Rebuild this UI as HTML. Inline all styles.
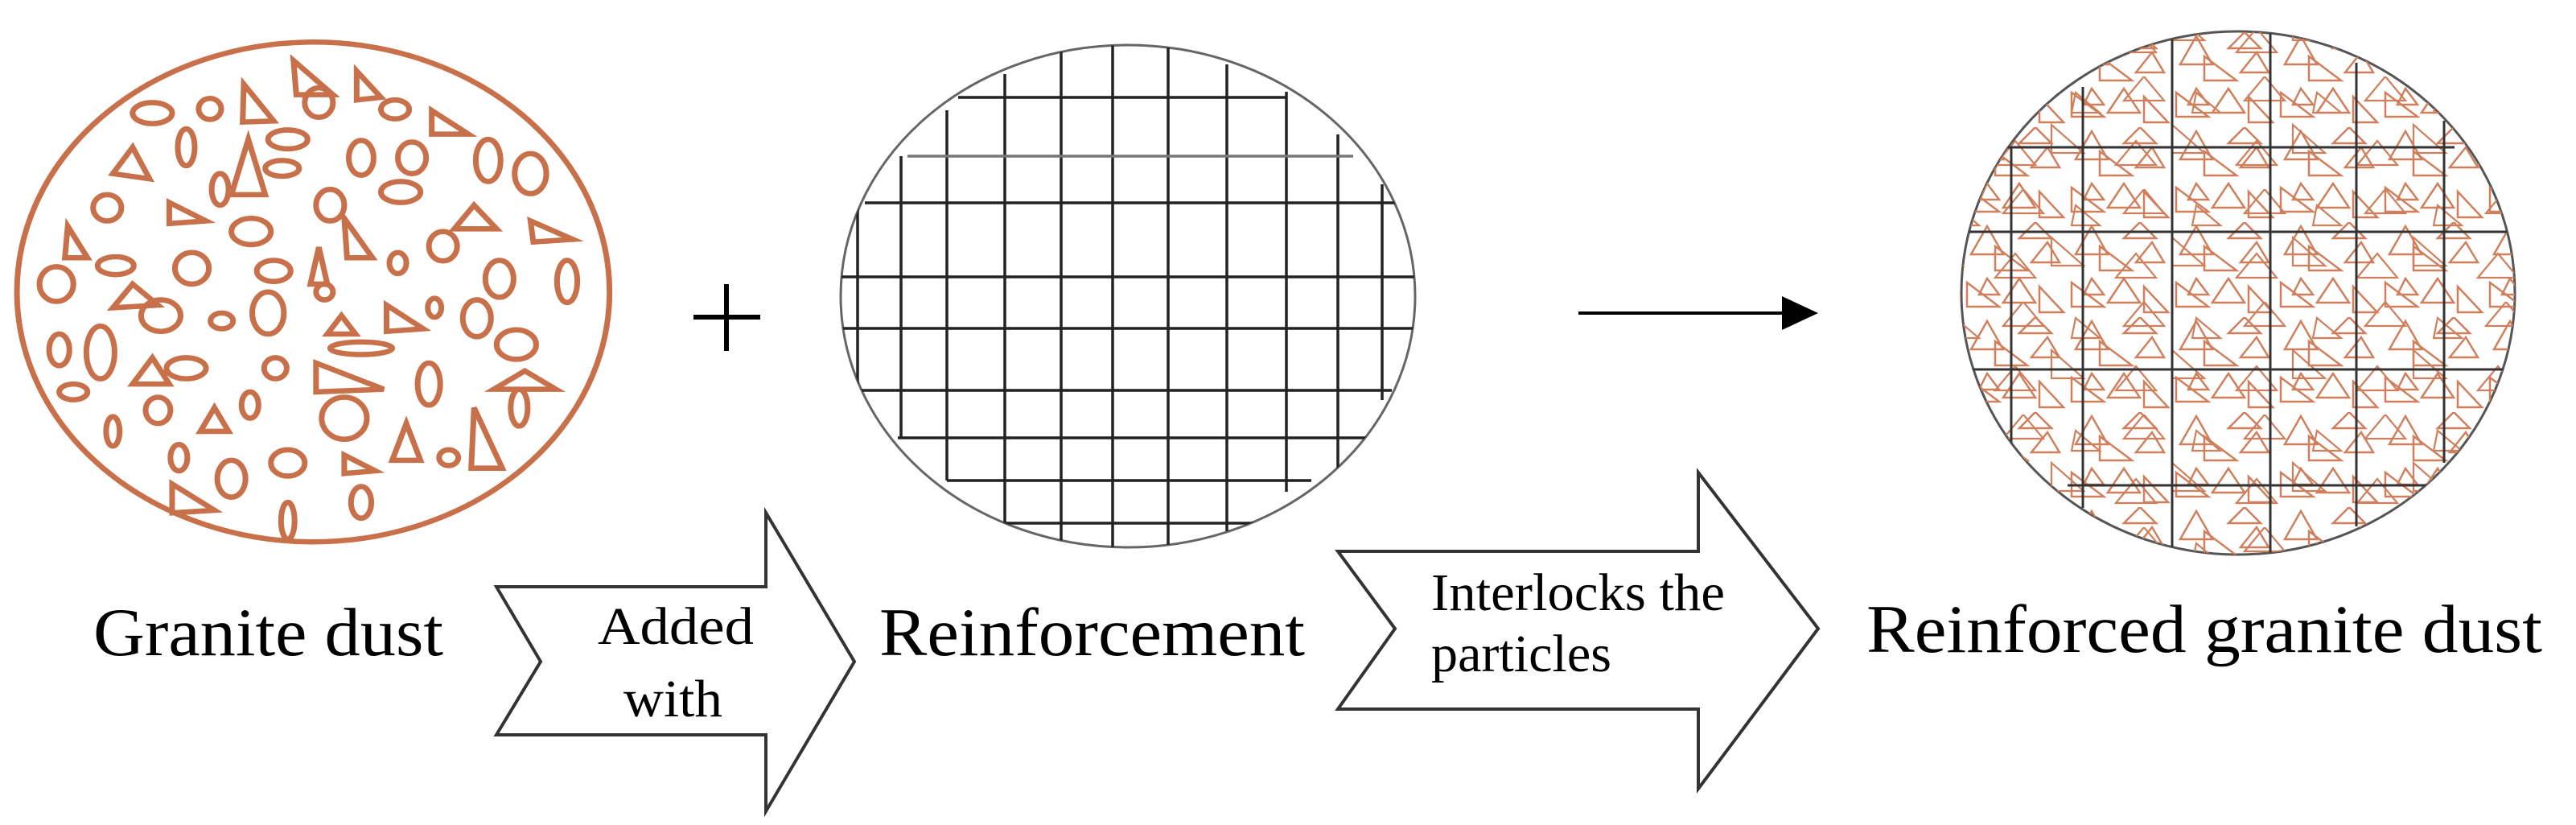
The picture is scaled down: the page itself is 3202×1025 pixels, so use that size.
<!DOCTYPE html>
<html><head><meta charset="utf-8"><style>
html,body{margin:0;padding:0;background:#fff;}
svg{display:block;}
text{font-family:"Liberation Serif",serif;fill:#000;}
</style></head><body>
<svg width="3202" height="1025" viewBox="0 0 3202 1025" xmlns="http://www.w3.org/2000/svg">
<defs>
<clipPath id="c2"><ellipse cx="1402" cy="368" rx="357" ry="312"/></clipPath>
<clipPath id="c3"><ellipse cx="2782" cy="364" rx="344" ry="325"/></clipPath>
<pattern id="tri" x="2440" y="40" width="130" height="118" patternUnits="userSpaceOnUse">
<g fill="none" stroke="#cf7f5c" stroke-width="2.5">
<polygon points="10,40 30,5 50,40"/><polygon points="40,30 40,60 80,60"/><polygon points="70,20 90,0 110,20"/>
<polygon points="85,50 105,25 120,50"/><polygon points="5,75 5,105 45,105"/><polygon points="50,100 70,70 90,100"/>
<polygon points="95,80 95,112 125,112"/><polygon points="30,70 45,90 20,90"/>
</g>
</pattern>
<pattern id="tri2" x="2470" y="95" width="150" height="140" patternUnits="userSpaceOnUse">
<g fill="none" stroke="#cf7f5c" stroke-width="2.2">
<polygon points="20,30 45,0 70,30"/><polygon points="80,60 80,95 120,95"/><polygon points="10,110 35,80 60,110"/><polygon points="110,20 140,45 105,45"/>
</g>
</pattern>
</defs>

<g transform="scale(0.7015,0.6536)" fill="none" stroke="#c8704a" stroke-width="10">
<ellipse cx="555" cy="555" rx="525" ry="475"/>
<ellipse cx="270" cy="215" rx="35" ry="20"/><ellipse cx="372" cy="207" rx="20" ry="20"/><ellipse cx="565" cy="195" rx="25" ry="28"/>
<ellipse cx="700" cy="208" rx="25" ry="18"/><ellipse cx="330" cy="280" rx="15" ry="35"/><ellipse cx="510" cy="265" rx="35" ry="18"/>
<ellipse cx="500" cy="320" rx="30" ry="15"/><ellipse cx="640" cy="300" rx="22" ry="33"/><ellipse cx="730" cy="300" rx="25" ry="30"/>
<ellipse cx="710" cy="365" rx="35" ry="20"/><ellipse cx="865" cy="305" rx="22" ry="40"/><ellipse cx="940" cy="330" rx="28" ry="38"/>
<ellipse cx="390" cy="360" rx="15" ry="30"/><ellipse cx="190" cy="395" rx="25" ry="25"/><ellipse cx="585" cy="390" rx="25" ry="30"/>
<ellipse cx="445" cy="440" rx="35" ry="25"/><ellipse cx="340" cy="510" rx="30" ry="30"/><ellipse cx="205" cy="505" rx="32" ry="17"/>
<ellipse cx="485" cy="515" rx="30" ry="20"/><ellipse cx="705" cy="500" rx="15" ry="20"/><ellipse cx="785" cy="468" rx="25" ry="28"/>
<ellipse cx="885" cy="530" rx="25" ry="35"/><ellipse cx="100" cy="540" rx="30" ry="33"/><ellipse cx="1005" cy="535" rx="18" ry="40"/>
<ellipse cx="575" cy="555" rx="15" ry="15"/><ellipse cx="285" cy="600" rx="35" ry="30"/><ellipse cx="393" cy="610" rx="20" ry="15"/>
<ellipse cx="475" cy="595" rx="28" ry="40"/><ellipse cx="770" cy="585" rx="12" ry="18"/><ellipse cx="845" cy="605" rx="25" ry="35"/>
<ellipse cx="915" cy="655" rx="35" ry="28"/><ellipse cx="105" cy="665" rx="18" ry="30"/><ellipse cx="178" cy="670" rx="25" ry="50"/>
<ellipse cx="640" cy="662" rx="55" ry="12"/><ellipse cx="330" cy="700" rx="35" ry="20"/><ellipse cx="488" cy="700" rx="20" ry="20"/>
<ellipse cx="760" cy="730" rx="20" ry="40"/><ellipse cx="130" cy="745" rx="25" ry="15"/><ellipse cx="280" cy="780" rx="22" ry="25"/>
<ellipse cx="443" cy="770" rx="15" ry="25"/><ellipse cx="610" cy="795" rx="40" ry="40"/><ellipse cx="920" cy="775" rx="15" ry="35"/>
<ellipse cx="200" cy="820" rx="12" ry="28"/><ellipse cx="317" cy="870" rx="15" ry="25"/><ellipse cx="410" cy="910" rx="25" ry="35"/>
<ellipse cx="510" cy="880" rx="30" ry="25"/><ellipse cx="795" cy="870" rx="17" ry="15"/><ellipse cx="640" cy="955" rx="18" ry="30"/>
<ellipse cx="510" cy="990" rx="12" ry="35"/>
<polygon points="520,115 590,180 525,180"/><polygon points="432,160 485,230 430,232"/><polygon points="632,135 675,185 632,190"/>
<polygon points="765,210 830,255 765,255"/><polygon points="235,280 265,340 200,330"/><polygon points="440,265 470,370 410,370"/>
<polygon points="300,385 365,420 300,425"/><polygon points="120,430 155,490 115,490"/><polygon points="840,390 880,435 805,435"/>
<polygon points="940,420 1015,455 945,460"/><polygon points="610,415 660,490 615,490"/><polygon points="565,470 580,540 550,540"/>
<polygon points="235,540 280,580 200,585"/><polygon points="605,600 630,635 580,635"/><polygon points="685,580 750,625 685,630"/>
<polygon points="270,680 300,730 235,730"/><polygon points="560,690 680,740 560,745"/><polygon points="930,705 985,740 875,740"/>
<polygon points="380,775 405,820 355,820"/><polygon points="720,805 745,875 695,875"/><polygon points="840,775 890,890 835,890"/>
<polygon points="610,865 665,895 610,900"/><polygon points="305,920 380,970 305,975"/>
</g>

<g stroke="#000" stroke-width="6"><line x1="862" y1="394" x2="945" y2="394"/><line x1="903" y1="353" x2="903" y2="436"/></g>

<ellipse cx="1402" cy="368" rx="357" ry="312" fill="#fff" stroke="#666" stroke-width="3"/>
<g clip-path="url(#c2)" stroke="#222" stroke-width="3.5">
<line x1="1066" y1="252" x2="1066" y2="485"/><line x1="1120" y1="194" x2="1120" y2="544"/><line x1="1177" y1="137" x2="1177" y2="597"/>
<line x1="1249" y1="92" x2="1249" y2="650"/><line x1="1319" y1="50" x2="1319" y2="690"/><line x1="1383" y1="50" x2="1383" y2="690"/>
<line x1="1452" y1="50" x2="1452" y2="690"/><line x1="1525" y1="80" x2="1525" y2="660"/><line x1="1599" y1="114" x2="1599" y2="611"/>
<line x1="1663" y1="167" x2="1663" y2="582"/><line x1="1718" y1="229" x2="1718" y2="497"/>
<line x1="1191" y1="121" x2="1599" y2="121"/><line x1="1128" y1="194" x2="1682" y2="194" stroke="#777"/><line x1="1075" y1="252" x2="1734" y2="252"/>
<line x1="1040" y1="344" x2="1770" y2="344"/><line x1="1040" y1="408" x2="1760" y2="408"/><line x1="1066" y1="485" x2="1730" y2="485"/>
<line x1="1116" y1="544" x2="1713" y2="544"/><line x1="1177" y1="597" x2="1630" y2="597"/><line x1="1249" y1="650" x2="1564" y2="650"/>
</g>

<line x1="1962" y1="389" x2="2220" y2="389" stroke="#000" stroke-width="4"/>
<polygon points="2215,368 2260,389 2215,410" fill="#000"/>

<ellipse cx="2782" cy="364" rx="344" ry="325" fill="#fff" stroke="#555" stroke-width="3"/>
<g clip-path="url(#c3)">
<rect x="2430" y="30" width="710" height="670" fill="url(#tri)"/>
<rect x="2430" y="30" width="710" height="670" fill="url(#tri2)"/>
<g stroke="#333" stroke-width="3">
<line x1="2500" y1="183" x2="2500" y2="559"/><line x1="2589" y1="108" x2="2589" y2="631"/><line x1="2700" y1="40" x2="2700" y2="690"/>
<line x1="2822" y1="40" x2="2822" y2="690"/><line x1="2929" y1="78" x2="2929" y2="654"/><line x1="3038" y1="150" x2="3038" y2="575"/>
<line x1="2496" y1="183" x2="3051" y2="183"/><line x1="2440" y1="288" x2="3130" y2="288"/><line x1="2440" y1="459" x2="3130" y2="459"/>
<line x1="2570" y1="603" x2="3022" y2="603"/>
</g>
</g>

<polygon points="617,729 952,729 952,637 1062,822 952,1008 952,913 617,913 672,822" fill="#fff" stroke="#333" stroke-width="4"/>
<polygon points="1663,685 2111,685 2111,587 2260,781 2111,980 2111,881 1663,881 1734,781" fill="#fff" stroke="#333" stroke-width="4"/>

<text x="116" y="814" font-size="85" textLength="435" lengthAdjust="spacingAndGlyphs">Granite dust</text>
<text x="1093" y="814" font-size="85" textLength="529" lengthAdjust="spacingAndGlyphs">Reinforcement</text>
<text x="2320" y="810" font-size="85" textLength="840" lengthAdjust="spacingAndGlyphs">Reinforced granite dust</text>
<text x="743" y="800" font-size="66" textLength="194" lengthAdjust="spacingAndGlyphs">Added</text>
<text x="775" y="890" font-size="66" textLength="123" lengthAdjust="spacingAndGlyphs">with</text>
<text x="1779" y="758" font-size="66" textLength="365" lengthAdjust="spacingAndGlyphs">Interlocks the</text>
<text x="1779" y="834" font-size="66" textLength="224" lengthAdjust="spacingAndGlyphs">particles</text>
</svg>
</body></html>
